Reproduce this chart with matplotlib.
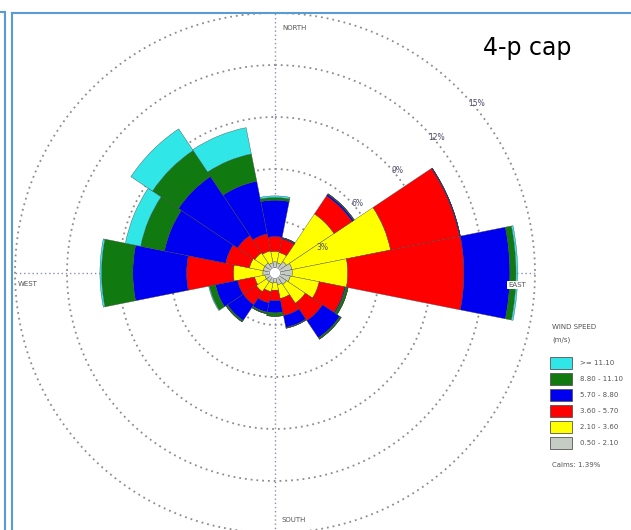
import numpy as np
import matplotlib
matplotlib.use('Agg')
import matplotlib.pyplot as plt
from matplotlib.lines import Line2D
from matplotlib.patches import Rectangle

# 16 wind directions, clockwise from north
directions = ['N', 'NNE', 'NE', 'ENE', 'E', 'ESE', 'SE', 'SSE',
              'S', 'SSW', 'SW', 'WSW', 'W', 'WNW', 'NW', 'NNW']
bearings = np.arange(len(directions)) * 22.5

# frequency (%) of each wind speed class per direction
freq_0_50_2_10 = [0.65, 0.60, 0.80, 1.00, 1.00, 0.90, 0.80, 0.70,
                  0.55, 0.60, 0.60, 0.60, 0.70, 0.70, 0.70, 0.60]
freq_2_10_3_60 = [0.60, 0.60, 3.30, 5.80, 3.20, 1.70, 1.30, 0.80,
                  0.45, 0.50, 0.70, 0.60, 1.70, 0.80, 0.70, 0.70]
freq_3_60_5_70 = [0.85, 0.80, 1.25, 4.05, 6.70, 1.50, 1.20, 1.00,
                  0.60, 0.65, 0.90, 1.00, 2.70, 1.40, 1.20, 1.00]
freq_5_70_8_80 = [2.10, 0.05, 0.10, 0.05, 2.65, 0.05, 1.20, 0.70,
                  0.70, 0.55, 1.10, 1.30, 3.10, 3.60, 4.10, 3.10]
freq_8_80_11_10 = [0.15, 0.03, 0.05, 0.00, 0.35, 0.15, 0.10, 0.05,
                   0.20, 0.10, 0.10, 0.35, 1.80, 1.40, 1.80, 1.60]
freq_over_11_10 = [0.10, 0.00, 0.00, 0.00, 0.10, 0.00, 0.00, 0.00,
                   0.00, 0.00, 0.00, 0.05, 0.10, 0.90, 1.50, 1.55]

speed_labels = ['0.50 - 2.10', '2.10 - 3.60', '3.60 - 5.70',
                '5.70 - 8.80', '8.80 - 11.10', '>= 11.10']
speed_colors = ['#c4ccc4', '#ffff00', '#ff0000', '#0000f0', '#107a10', '#30e6e6']
ring_values = [3, 6, 9, 12, 15]
calms = 1.39

bands = [freq_0_50_2_10, freq_2_10_3_60, freq_3_60_5_70,
         freq_5_70_8_80, freq_8_80_11_10, freq_over_11_10]

fig = plt.figure(figsize=(6.31, 5.30), dpi=100)
ax = fig.add_axes([15 / 631, -3 / 530, 520 / 631, 520 / 530], projection='polar')
ax.set_theta_zero_location('N')
ax.set_theta_direction(-1)
ax.set_ylim(0, 15)
ax.grid(False)
ax.set_xticks([])
ax.set_yticks([])
ax.spines['polar'].set_visible(False)
ax.patch.set_alpha(0)

# dotted rings and compass cross
circ = np.linspace(0, 2 * np.pi, 400)
for r in ring_values:
    ax.plot(circ, np.full_like(circ, r), color='#8c8c8c', lw=1.3,
            ls=(0, (1, 2.2)), clip_on=False, zorder=1)
for a in [0, 90, 180, 270]:
    ax.plot([0, np.deg2rad(a)], [0, 15], color='#8a8fb8', lw=1.0,
            ls=(0, (1, 2)), clip_on=False, zorder=1)

# stacked bars
theta = np.deg2rad(bearings)
width = np.deg2rad(22.5)
bottom = np.zeros(len(directions))
for vals, col in zip(bands, speed_colors):
    vals = np.array(vals)
    ax.bar(theta, vals, width=width, bottom=bottom, color=col,
           edgecolor='#3a3a3a', linewidth=0.25, zorder=3)
    bottom += vals

# calm circle in the middle
ax.fill(circ, np.full_like(circ, 0.32), color='white', zorder=4)
ax.plot(circ, np.full_like(circ, 0.32), color='#777777', lw=0.5, zorder=4)

# ring labels
for v in ring_values:
    ang, rr = (62, v + 0.1) if v == 3 else (50, v + 0.2)
    ax.text(np.deg2rad(ang), rr, f'{v}%', fontsize=5.5,
            color='#4a4a6a', ha='center', va='center', zorder=5)

small = dict(fontsize=5, color='#555555')
fig.text(282 / 631, 1 - 28 / 530, 'NORTH', ha='left', va='center', **small)
fig.text(282 / 631, 1 - 520 / 530, 'SOUTH', ha='left', va='center', **small)
fig.text(18 / 631, 1 - 284 / 530, 'WEST', ha='left', va='center', **small)
fig.text(517 / 631, 1 - 285 / 530, 'EAST', ha='center', va='center',
         bbox=dict(facecolor='white', edgecolor='none', pad=0.6), zorder=6, **small)

fig.text(527 / 631, 1 - 48 / 530, '4-p cap', fontsize=17, ha='center', va='center',
         color='black')

# legend
fig.text(552 / 631, 1 - 327 / 530, 'WIND SPEED', ha='left', va='center', **small)
fig.text(552 / 631, 1 - 340 / 530, '(m/s)', ha='left', va='center', **small)
for i, (lab, col) in enumerate(zip(speed_labels[::-1], speed_colors[::-1])):
    yc = 363 + i * 16
    fig.patches.append(Rectangle((550 / 631, 1 - (yc + 6) / 530), 22 / 631, 12 / 530,
                                 transform=fig.transFigure, facecolor=col,
                                 edgecolor='#555555', linewidth=0.6))
    fig.text(580 / 631, 1 - yc / 530, lab, ha='left', va='center', **small)
fig.text(552 / 631, 1 - 465 / 530, f'Calms: {calms:.2f}%', ha='left', va='center', **small)

# slide frame lines
frame = '#5b9bd5'
fig.add_artist(Line2D([0, 5 / 631], [1 - 12 / 530] * 2, color=frame, lw=1.5))
fig.add_artist(Line2D([5 / 631] * 2, [1 - 12 / 530, 0], color=frame, lw=1.5))
fig.add_artist(Line2D([11.5 / 631] * 2, [1 - 13 / 530, 0], color=frame, lw=1.5))
fig.add_artist(Line2D([11.5 / 631, 1], [1 - 13 / 530] * 2, color=frame, lw=1.5))

fig.savefig('out.png', dpi=100)
